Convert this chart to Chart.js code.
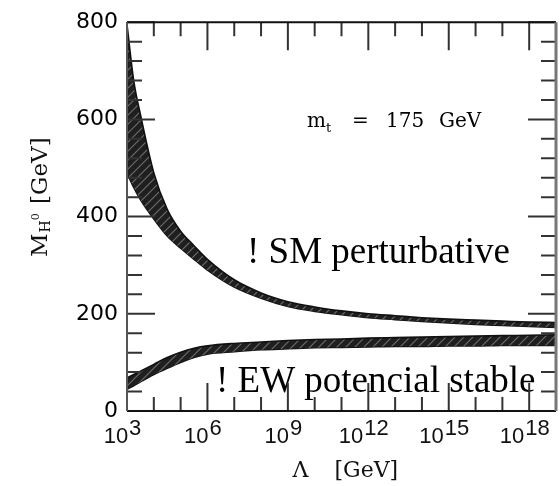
<!DOCTYPE html>
<html>
<head>
<meta charset="utf-8">
<script src="https://cdn.jsdelivr.net/npm/chart.js@4.4.1/dist/chart.umd.min.js"></script>
<style>
    html, body { margin: 0; padding: 0; background: #fff; }
</style>
</head>
<body>
<canvas id="myChart" width="560" height="486"></canvas>
<script>
// x: log10 of the cut-off scale Lambda in GeV
const logLambda = [3, 3.25, 3.5, 4, 4.5, 5, 5.5, 6, 7, 8, 9, 10, 11, 12, 13, 14, 15, 16, 17, 18, 19];

// perturbativity band, Higgs mass in GeV
const smUpper = [795, 680, 610, 490, 415, 370, 340, 312, 270, 243, 225, 214, 206, 200, 196, 192, 189, 187, 185, 183, 182];
const smLower = [490, 460, 435, 395, 360, 335, 312, 290, 255, 232, 215, 205, 198, 192, 188, 184, 181, 178, 176, 174, 172];

// vacuum stability band, Higgs mass in GeV
const ewUpper = [68, 75, 82, 96, 110, 121, 129, 134, 139, 142, 145, 147, 148, 150, 151, 152, 153, 154, 155, 156, 157];
const ewLower = [45, 52, 60, 75, 88, 100, 110, 117, 122, 126, 128, 130, 131, 132, 133, 133, 134, 134, 135, 135, 135];

const xMajorTicks = [3, 6, 9, 12, 15, 18];
const xMinorTicks = [4, 5, 7, 8, 10, 11, 13, 14, 16, 17];
const yMajorTicks = [0, 200, 400, 600, 800];
const yMinorTicks = [40, 80, 120, 160, 240, 280, 320, 360, 440, 480, 520, 560, 640, 680, 720, 760];

function hatch() {
    const c = document.createElement('canvas');
    c.width = 9;
    c.height = 9;
    const g = c.getContext('2d');
    g.fillStyle = '#1f1f1f';
    g.fillRect(0, 0, 9, 9);
    g.strokeStyle = '#6e6e6e';
    g.lineWidth = 1.1;
    g.beginPath();
    g.moveTo(-1, 10); g.lineTo(10, -1);
    g.moveTo(-1, 1); g.lineTo(1, -1);
    g.moveTo(8, 10); g.lineTo(10, 8);
    g.stroke();
    return g.createPattern(c, 'repeat');
}

function points(ys) {
    return logLambda.map((x, i) => ({x: x, y: ys[i]}));
}

function band(ys, fill) {
    return {
        data: points(ys),
        fill: fill,
        backgroundColor: hatch(),
        borderColor: '#111',
        borderWidth: 1.6,
        pointRadius: 0,
        cubicInterpolationMode: 'monotone'
    };
}

// "10^n" label, exponent at full size and raised
function drawPow(ctx, base, exp, cx, y) {
    ctx.font = '22px "Liberation Sans"';
    const wb = ctx.measureText(base).width;
    const we = ctx.measureText(exp).width;
    const x0 = cx - (wb + we) / 2;
    ctx.textAlign = 'left';
    ctx.fillText(base, x0, y);
    ctx.fillText(exp, x0 + wb + 1, y - 8);
}

const decorations = {
    id: 'decorations',
    afterDatasetsDraw(chart) {
        const {ctx, chartArea: a, scales: {x, y}} = chart;
        ctx.save();
        ctx.fillStyle = '#000';
        ctx.textBaseline = 'alphabetic';

        // annotations inside the plot
        ctx.font = '20px "DejaVu Serif"';
        ctx.textAlign = 'left';
        let tx = 307;
        ctx.fillText('m', tx, 127);
        tx += ctx.measureText('m').width;
        ctx.font = '13px "DejaVu Serif"';
        ctx.fillText('t', tx, 132);
        ctx.font = '20px "DejaVu Serif"';
        ctx.fillText('=', 352, 127);
        ctx.fillText('175', 386, 127);
        ctx.fillText('GeV', 439, 127);

        ctx.font = '37px "Liberation Serif"';
        ctx.fillText('! SM perturbative', 247, 263);
        ctx.fillText('! EW potencial stable', 216, 392);

        // inward ticks on all four sides
        ctx.strokeStyle = '#333';
        ctx.lineWidth = 2;
        ctx.beginPath();
        const xt = (v, len) => {
            const px = x.getPixelForValue(v);
            ctx.moveTo(px, a.bottom); ctx.lineTo(px, a.bottom - len);
            ctx.moveTo(px, a.top); ctx.lineTo(px, a.top + len);
        };
        const yt = (v, len) => {
            const py = y.getPixelForValue(v);
            ctx.moveTo(a.left, py); ctx.lineTo(a.left + len, py);
            ctx.moveTo(a.right, py); ctx.lineTo(a.right - len, py);
        };
        xMajorTicks.forEach(v => xt(v, 28));
        xMinorTicks.forEach(v => xt(v, 14));
        yMajorTicks.forEach(v => yt(v, 28));
        yMinorTicks.forEach(v => yt(v, 15));
        ctx.stroke();

        // frame
        ctx.lineWidth = 2;
        ctx.strokeStyle = '#111';
        ctx.beginPath();
        ctx.moveTo(a.left, a.top); ctx.lineTo(a.right, a.top);
        ctx.moveTo(a.left, a.bottom); ctx.lineTo(a.right, a.bottom);
        ctx.stroke();
        ctx.strokeStyle = '#555';
        ctx.beginPath();
        ctx.moveTo(a.left, a.top); ctx.lineTo(a.left, a.bottom);
        ctx.stroke();
        ctx.lineWidth = 3;
        ctx.strokeStyle = '#777';
        ctx.beginPath();
        ctx.moveTo(a.right, a.top); ctx.lineTo(a.right, a.bottom);
        ctx.stroke();

        // x tick labels
        ctx.fillStyle = '#111';
        xMajorTicks.forEach(v => drawPow(ctx, '10', String(v), x.getPixelForValue(v) - 5, 443));

        // axis titles
        ctx.font = '22px "DejaVu Serif"';
        ctx.textAlign = 'left';
        const mid = (a.left + a.right) / 2;
        ctx.fillText('\u039B', mid - 49, 477);
        ctx.fillText('[GeV]', mid - 7, 477);

        ctx.translate(47, 257);
        ctx.rotate(-Math.PI / 2);
        ctx.font = '23px "DejaVu Serif"';
        let ty = 0;
        ctx.fillText('M', ty, 0);
        ty += ctx.measureText('M').width + 1;
        ctx.font = '14px "DejaVu Serif"';
        ctx.fillText('H', ty, 3);
        ty += ctx.measureText('H').width;
        ctx.font = '11px "DejaVu Serif"';
        ctx.fillText('0', ty, -8);
        ty += ctx.measureText('0').width + 2;
        ctx.font = '23px "DejaVu Serif"';
        ctx.fillText(' [GeV]', ty, 0);
        ctx.restore();
    }
};

const ctx = document.getElementById('myChart');

const data = {
    datasets: [
        band(smUpper, '+1'),
        band(smLower, false),
        band(ewUpper, '+1'),
        band(ewLower, false)
    ]
};

const options = {
    responsive: false,
    animation: false,
    events: [],
    layout: {
        padding: {left: 0, top: 18, right: 4, bottom: 0}
    },
    plugins: {
        legend: {display: false},
        tooltip: {enabled: false}
    },
    scales: {
        x: {
            type: 'linear',
            min: 3,
            max: 19,
            border: {display: false},
            grid: {display: false, drawTicks: false},
            ticks: {display: false},
            afterFit: (s) => { s.height = 75; }
        },
        y: {
            min: 0,
            max: 800,
            border: {display: false},
            grid: {display: false, drawTicks: false},
            ticks: {
                stepSize: 200,
                padding: 9,
                color: '#000',
                font: {family: 'DejaVu Sans', size: 22}
            },
            afterFit: (s) => { s.width = 127; }
        }
    }
};

new Chart(ctx, {
    type: 'line',
    data: data,
    options: options,
    plugins: [decorations]
});
</script>
</body>
</html>
